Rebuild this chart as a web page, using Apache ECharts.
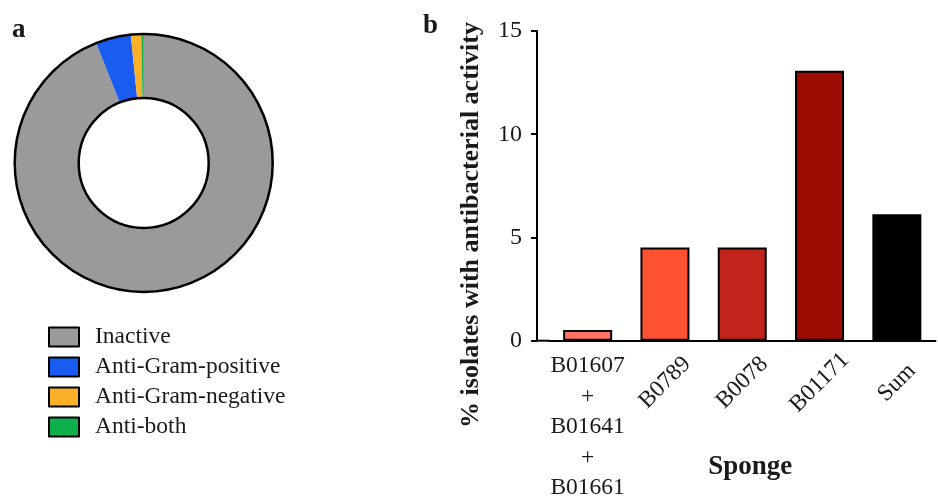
<!DOCTYPE html>
<html>
<head>
<meta charset="utf-8">
<script src="https://cdn.jsdelivr.net/npm/echarts@6/dist/echarts.min.js"></script>
<style>
  html, body { margin: 0; padding: 0; background: #fff; }
  #main { width: 938px; height: 497px; }
</style>
</head>
<body>
<div id="main"></div>
<script>
// 饼图数据
var pieNames = ['Inactive', 'Anti-Gram-positive', 'Anti-Gram-negative', 'Anti-both'];
var pieValues = [94.0, 4.4, 1.3, 0.3];
var pieColors = ['#9a9a9a', '#1a5cf0', '#fbb02a', '#0db04b'];
// 柱状图数据
var sponges = ['B01607\n+\nB01641\n+\nB01661', 'B0789', 'B0078', 'B01171', 'Sum'];
var activity = [0.52, 4.52, 4.52, 13.07, 6.13];
var barColors = ['#ff7462', '#ff5233', '#c0241a', '#9c0c02', '#000000'];
var yTicks = [0, 5, 10, 15];

var font = '"Liberation Serif", "DejaVu Serif", serif';
var ink = '#1a1a1a';

// 坐标区域
var gridLeft = 549, gridRight = 2.5, gridTop = 31, gridBottom = 156.3;
var yOffset = 12;

(function () {
    var myChart = echarts.init(document.getElementById('main'));

    var pieData = pieNames.map(function (n, i) {
        return { name: n, value: pieValues[i], itemStyle: { color: pieColors[i] } };
    });
    var barData = activity.map(function (v, i) {
        return { value: v, itemStyle: { color: barColors[i] } };
    });

    var option = {
        animation: false,
        textStyle: { fontFamily: font },
        legend: {
            data: pieNames,
            orient: 'vertical',
            left: 43,
            top: 320,
            icon: 'rect',
            itemWidth: 30,
            itemHeight: 19,
            itemGap: 6,
            selectedMode: false,
            itemStyle: { borderColor: '#000', borderWidth: 2 },
            textStyle: { fontFamily: font, fontSize: 23.5, color: ink, padding: [0, 0, 0, 11] }
        },
        grid: {
            left: gridLeft,
            right: gridRight,
            top: gridTop,
            bottom: gridBottom,
            containLabel: false,
            outerBoundsMode: 'none'
        },
        xAxis: [
            {
                type: 'category',
                data: sponges,
                position: 'bottom',
                axisLine: { lineStyle: { color: '#000', width: 2 } },
                axisTick: { alignWithLabel: true, length: 6, interval: 0, lineStyle: { color: '#000', width: 2 } },
                axisLabel: {
                    interval: 0,
                    rotate: 45,
                    align: 'center',
                    verticalAlign: 'middle',
                    margin: 42,
                    fontFamily: font,
                    fontSize: 23.5,
                    color: ink,
                    formatter: function (v, i) { return i === 0 ? '' : v; }
                },
                name: 'Sponge',
                nameLocation: 'middle',
                nameGap: 113,
                nameTextStyle: { fontFamily: font, fontSize: 27, fontWeight: 'bold', color: ink, padding: [0, 0, 0, 16] }
            },
            {
                type: 'category',
                data: sponges,
                position: 'bottom',
                axisLine: { show: false },
                axisTick: { show: false },
                axisLabel: {
                    interval: 0,
                    margin: 10,
                    fontFamily: font,
                    fontSize: 23.5,
                    lineHeight: 30.5,
                    color: ink,
                    formatter: function (v, i) { return i === 0 ? v : ''; }
                }
            }
        ],
        yAxis: {
            type: 'value',
            min: yTicks[0],
            max: yTicks[yTicks.length - 1],
            interval: 5,
            offset: yOffset,
            axisLine: { show: true, lineStyle: { color: '#000', width: 2 } },
            axisTick: { show: true, length: 6, lineStyle: { color: '#000', width: 2 } },
            splitLine: { show: false },
            axisLabel: { margin: 15, fontFamily: font, fontSize: 24, color: ink }
        },
        series: [
            {
                name: 'activity',
                type: 'pie',
                center: [143.7, 163],
                radius: [65, 129],
                startAngle: 90,
                clockwise: true,
                label: { show: false },
                labelLine: { show: false },
                emphasis: { disabled: true },
                itemStyle: { borderWidth: 0 },
                data: pieData
            },
            {
                // 饼图外圈和内圈的黑色描边
                name: 'outline',
                type: 'pie',
                center: [143.7, 163],
                radius: [65, 129],
                silent: true,
                label: { show: false },
                labelLine: { show: false },
                emphasis: { disabled: true },
                itemStyle: { color: 'rgba(0,0,0,0)', borderColor: '#000', borderWidth: 2.5 },
                data: [{ name: 'outline', value: 1 }]
            },
            {
                name: 'Sponge',
                type: 'bar',
                xAxisIndex: 0,
                barWidth: 49,
                itemStyle: { borderColor: '#000', borderWidth: 2 },
                data: barData
            }
        ],
        graphic: [
            {
                type: 'text',
                left: 12,
                top: 17,
                style: { text: 'a', font: 'bold 27px ' + font, fill: ink }
            },
            {
                type: 'text',
                left: 423,
                top: 13,
                style: { text: 'b', font: 'bold 27px ' + font, fill: ink }
            },
            {
                type: 'text',
                x: 471,
                y: 225,
                rotation: Math.PI / 2,
                style: {
                    text: '% isolates with antibacterial activity',
                    font: 'bold 26px ' + font,
                    fill: ink,
                    align: 'center',
                    verticalAlign: 'middle'
                }
            },
            {
                // 让x轴线与偏移后的y轴相接
                type: 'line',
                shape: { x1: gridLeft - yOffset - 1, y1: 497 - gridBottom, x2: gridLeft, y2: 497 - gridBottom },
                style: { stroke: '#000', lineWidth: 2 }
            }
        ]
    };

    myChart.setOption(option);
    window.addEventListener('resize', function () {
        myChart.resize();
    });
})();
</script>
</body>
</html>
